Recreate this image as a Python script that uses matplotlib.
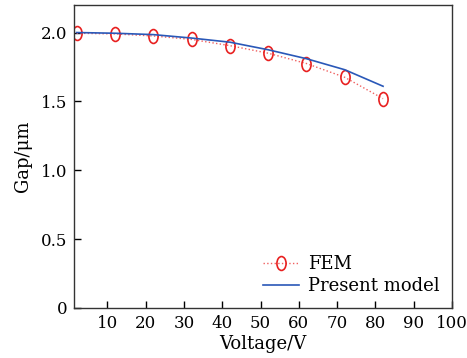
import numpy as np
import matplotlib
matplotlib.use("Agg")
import matplotlib.pyplot as plt
from matplotlib.path import Path
from matplotlib.transforms import Affine2D

# data
voltage = [2, 12, 22, 32, 42, 52, 62, 72, 82]
gap_fem = [1.995, 1.99, 1.975, 1.95, 1.905, 1.85, 1.775, 1.675, 1.52]
gap_model = [2.0, 1.995, 1.985, 1.96, 1.93, 1.875, 1.81, 1.73, 1.61]

plt.rcParams['font.family'] = ['DejaVu Serif']
plt.rcParams['mathtext.fontset'] = 'dejavuserif'

# tall open ellipse marker
ellipse = Path.unit_circle().transformed(Affine2D().scale(0.66, 1.0))

fig = plt.figure(figsize=(4.67, 3.58), dpi=100)
ax = fig.add_axes([74 / 467, 50 / 358, 378 / 467, 303 / 358])

ax.plot(voltage, gap_fem, linestyle=':', color='#f06060', linewidth=1.0,
        marker=ellipse, markersize=10, markerfacecolor='none',
        markeredgecolor='#e82020', markeredgewidth=1.2, label='FEM')
ax.plot(voltage, gap_model, linestyle='-', color='#2a58b8', linewidth=1.2,
        label='Present model')

ax.set_xlim(1.3, 100)
ax.set_ylim(0, 2.2)
ax.set_xticks([10, 20, 30, 40, 50, 60, 70, 80, 90, 100])
ax.set_yticks([0, 0.5, 1.0, 1.5, 2.0])
ax.set_yticklabels(['0', '0.5', '1.0', '1.5', '2.0'])
ax.tick_params(direction='in', length=5, width=1, labelsize=12, pad=5)
for s in ax.spines.values():
    s.set_linewidth(1.0)
    s.set_color('#333333')

ax.set_xlabel('Voltage/V', fontsize=13, labelpad=2)
ax.set_ylabel('Gap/\u03bcm', fontsize=13, labelpad=6)

ax.legend(loc='lower right', frameon=False, fontsize=13, handlelength=2.0,
          borderaxespad=0.3, labelspacing=0.25, handletextpad=0.5)

fig.savefig('out.png', dpi=100)
